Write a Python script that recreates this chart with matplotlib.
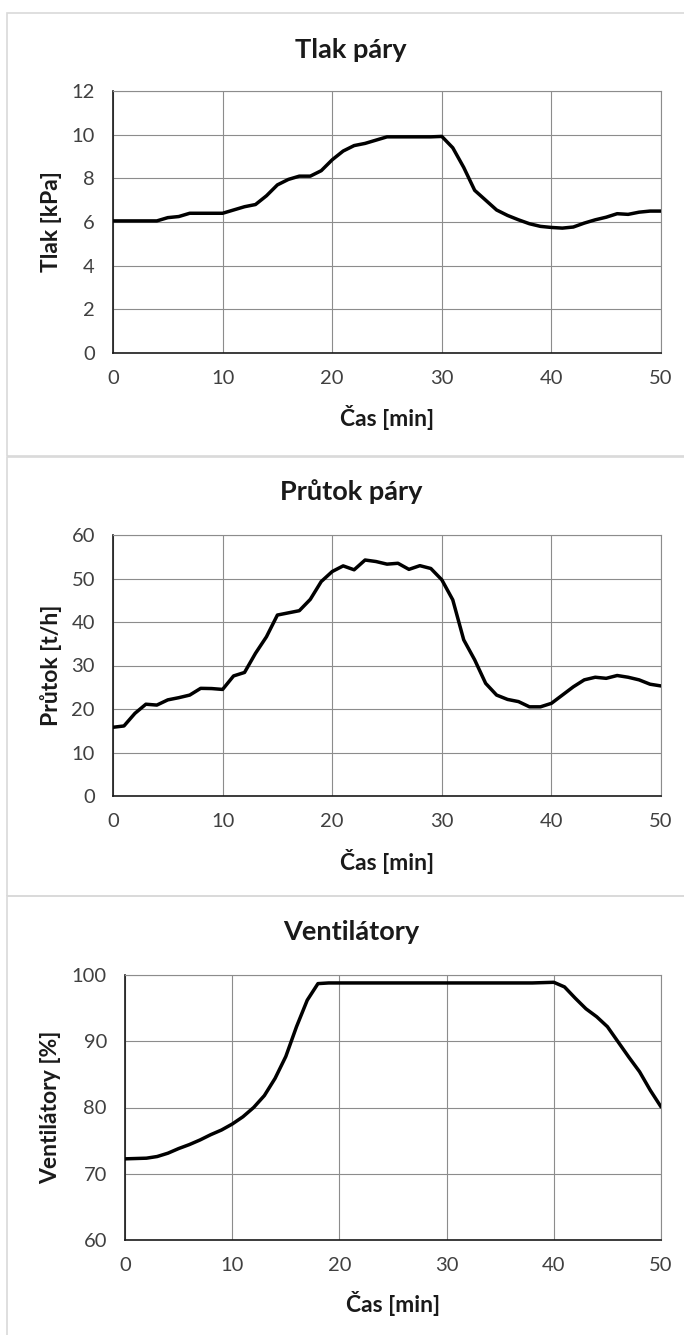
import matplotlib
matplotlib.use("Agg")
import matplotlib.pyplot as plt
from matplotlib.patches import Rectangle

plt.rcParams['font.family'] = ['Lato', 'DejaVu Sans']

# ---------------- data ----------------
time_min = list(range(0, 51))

tlak_kpa = [6.05, 6.05, 6.05, 6.05, 6.05, 6.2, 6.25, 6.4, 6.4, 6.4,
            6.4, 6.55, 6.7, 6.8, 7.2, 7.7, 7.95, 8.1, 8.1, 8.35,
            8.85, 9.25, 9.5, 9.6, 9.75, 9.9, 9.9, 9.9, 9.9, 9.9,
            9.92, 9.4, 8.5, 7.45, 7.0, 6.55, 6.3, 6.1, 5.92, 5.8,
            5.75, 5.72, 5.77, 5.95, 6.1, 6.22, 6.38, 6.35, 6.45, 6.5,
            6.5]

prutok_th = [15.8, 16.1, 19.0, 21.1, 20.9, 22.1, 22.6, 23.2, 24.75, 24.7,
             24.5, 27.6, 28.4, 32.8, 36.6, 41.6, 42.1, 42.6, 45.2, 49.3,
             51.6, 52.9, 52.0, 54.25, 53.9, 53.3, 53.5, 52.1, 52.95, 52.3,
             49.7, 45.1, 35.9, 31.3, 25.9, 23.2, 22.2, 21.7, 20.5, 20.5,
             21.3, 23.2, 25.1, 26.7, 27.3, 27.05, 27.7, 27.3, 26.7, 25.7,
             25.3]

ventilatory_pct = [72.25, 72.3, 72.35, 72.6, 73.1, 73.8, 74.4, 75.1, 75.9, 76.6,
                   77.5, 78.6, 80.0, 81.8, 84.4, 87.7, 92.2, 96.2, 98.7, 98.8,
                   98.8, 98.8, 98.8, 98.8, 98.8, 98.8, 98.8, 98.8, 98.8, 98.8,
                   98.8, 98.8, 98.8, 98.8, 98.8, 98.8, 98.8, 98.8, 98.8, 98.85,
                   98.9, 98.2, 96.5, 94.9, 93.7, 92.2, 89.9, 87.6, 85.4, 82.6,
                   80.1]

titles = ["Tlak páry", "Průtok páry", "Ventilátory"]
ylabels = ["Tlak [kPa]", "Průtok [t/h]", "Ventilátory [%]"]
xlabel = "Čas [min]"
x_ticks = [0, 10, 20, 30, 40, 50]
y_ticks = [[0, 2, 4, 6, 8, 10, 12],
           [0, 10, 20, 30, 40, 50, 60],
           [60, 70, 80, 90, 100]]
series = [tlak_kpa, prutok_th, ventilatory_pct]

# ---------------- layout (pixels) ----------------
W, H = 684, 1335
fig = plt.figure(figsize=(W / 100, H / 100), dpi=100)
fig.patch.set_facecolor('white')

def fx(px):
    return px / W

def fy(py):
    return 1 - py / H

# panel frames (light gray borders)
panels = [(7, 13, 456), (7, 457, 896), (7, 896, 1345)]
for (l, t, b) in panels:
    fig.add_artist(Rectangle((fx(l), fy(b)), fx(W + 20 - l), (b - t) / H,
                             transform=fig.transFigure, fill=False,
                             edgecolor='#d9d9d9', linewidth=1.2))

# axes rects: left, top, right, bottom
axes_px = [(113, 91, 661, 353), (113, 535, 661, 796), (125, 975, 661, 1240)]
title_y = [50, 492, 932]
xlabel_y = [417, 861, 1304]
ylabel_x = 51

for i, (l, t, r, b) in enumerate(axes_px):
    ax = fig.add_axes([fx(l), fy(b), (r - l) / W, (b - t) / H])
    ax.plot(time_min, series[i], color='black', linewidth=2.5,
            solid_joinstyle='round', solid_capstyle='round', zorder=3)
    ax.set_xlim(0, 50)
    ax.set_ylim(y_ticks[i][0], y_ticks[i][-1])
    ax.set_xticks(x_ticks)
    ax.set_yticks(y_ticks[i])
    ax.grid(True, color='#8c8c8c', linewidth=0.8)
    ax.set_axisbelow(True)
    ax.tick_params(length=0, labelsize=14.5, colors='#404040', pad=13)
    ax.tick_params(axis='x', pad=12)
    for s in ['top', 'right']:
        ax.spines[s].set_color('#8c8c8c')
        ax.spines[s].set_linewidth(0.8)
    for s in ['left', 'bottom']:
        ax.spines[s].set_color('#1a1a1a')
        ax.spines[s].set_linewidth(1.2)
    ax.spines['bottom'].set_zorder(4)

    fig.text(fx(351), fy(title_y[i]), titles[i], ha='center', va='center',
             fontsize=19.5, fontweight='bold', color='#1a1a1a')
    fig.text(fx((l + r) / 2), fy(xlabel_y[i]), xlabel, ha='center', va='center',
             fontsize=16.5, fontweight='bold', color='#1a1a1a')
    fig.text(fx(ylabel_x), fy((t + b) / 2), ylabels[i], ha='center', va='center',
             rotation=90, fontsize=16.5, fontweight='bold', color='#1a1a1a')

fig.savefig('out.png', dpi=100, facecolor='white')
